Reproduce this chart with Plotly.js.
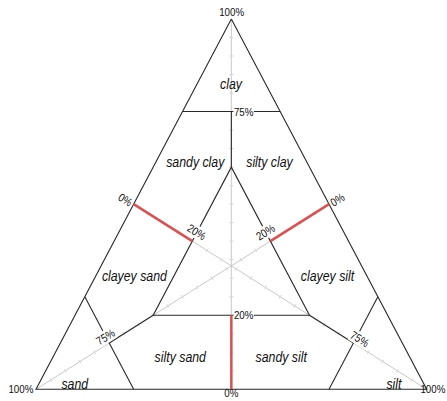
<!DOCTYPE html>
<html>
<head>
<meta charset="utf-8">
<script src="https://cdn.plot.ly/plotly-3.0.1.min.js"></script>
<style>html,body{margin:0;padding:0;background:#fff;}#chart{width:447px;height:401px;}</style>
</head>
<body>
<div id="chart"></div>
<script>
// Compositions (percent): clay, sand, silt. null breaks a line.
const boundaryClay = [100, 0, 0, 100, null, 75, 75, null, 75, 60, null, 60, 20, 20, 60, null, 20, 12.5, null, 20, 12.5, null, 25, 0, null, 25, 0];
const boundarySilt = [0, 0, 100, 0, null, 0, 25, null, 12.5, 20, null, 20, 20, 60, 20, null, 20, 12.5, null, 60, 75, null, 0, 25, null, 75, 75];

const redClay = [50, 40, null, 50, 40, null, 20, 0];
const redSilt = [0, 20, null, 50, 40, null, 40, 50];

const medianClay = [100, 0, null, 0, 50, null, 0, 50];
const medianSilt = [0, 50, null, 0, 50, null, 100, 0];

const tickSteps = [5,10,15,20,25,30,35,40,45,50,55,60,65,70,75,80,85,90,95];

const regionNames = ["clay", "sandy clay", "silty clay", "clayey sand", "clayey silt", "silty sand", "sandy silt", "sand", "silt"];
const percentLabels = ["100%", "100%", "100%", "0%", "75%", "20%", "0%", "20%", "0%", "20%", "75%", "75%"];

// ternary -> cartesian (x = silt + clay/2, y = clay)
function toX(clay, silt) { return (clay === null) ? null : silt + clay / 2; }
function toY(clay) { return clay; }

const bx = boundaryClay.map((c, i) => toX(c, boundarySilt[i]));
const by = boundaryClay.map(toY);
const rx = redClay.map((c, i) => toX(c, redSilt[i]));
const ry = redClay.map(toY);
const mx = medianClay.map((c, i) => toX(c, medianSilt[i]));
const my = medianClay.map(toY);

const tVx = [], tVy = [];
tickSteps.forEach(c => { tVx.push(toX(c, (100 - c) / 2)); tVy.push(c); });
const tSx = [], tSy = [];
tickSteps.forEach(s => { const c = (100 - s) / 2; tSx.push(toX(c, c)); tSy.push(c); });
const tTx = [], tTy = [];
tickSteps.forEach(t => { const c = (100 - t) / 2; tTx.push(toX(c, t)); tTy.push(c); });

const grey = '#c9c9c9';
const tickCol = '#d6d6d6';
const traces = [
  {x: mx, y: my, mode: 'lines', line: {color: grey, width: 1}, hoverinfo: 'skip'},
  {x: tVx, y: tVy, mode: 'markers', marker: {symbol: 'line-ew', size: 3, line: {color: tickCol, width: 1}}, hoverinfo: 'skip'},
  {x: tSx, y: tSy, mode: 'markers', marker: {symbol: 'line-ew', size: 3, angle: 57.7, line: {color: tickCol, width: 1}}, hoverinfo: 'skip'},
  {x: tTx, y: tTy, mode: 'markers', marker: {symbol: 'line-ew', size: 3, angle: -57.7, line: {color: tickCol, width: 1}}, hoverinfo: 'skip'},
  {x: bx, y: by, mode: 'lines', line: {color: '#2a2a2a', width: 1.1}, hoverinfo: 'skip'},
  {x: rx, y: ry, mode: 'lines', line: {color: '#de4f4f', width: 2.5}, hoverinfo: 'skip'}
];

const regionPos = [[50, 82.4], [40.95, 61.5], [59.9, 61.5], [25.3, 30.6], [74.8, 30.6], [37.0, 8.64], [62.9, 8.64], [10.0, 1.35], [91.7, 1.35]];
const FN = '"Liberation Sans", Arial, sans-serif';
const annotations = [];
regionNames.forEach((n, i) => annotations.push({
  x: regionPos[i][0], y: regionPos[i][1], text: n, showarrow: false,
  font: {family: FN, size: 14.5, color: '#111', style: 'italic'}
}));
const pctSpec = [
  {x: 50, y: 101.8, bgcolor: 'rgba(0,0,0,0)'},
  {x: -0.5, y: 0.15, xanchor: 'right', bgcolor: 'rgba(0,0,0,0)'},
  {x: 105.07, y: 0.15, xanchor: 'right', bgcolor: 'rgba(0,0,0,0)'},
  {x: 50, y: -3.02, yanchor: 'bottom', bgcolor: 'rgba(0,0,0,0)'},
  {x: 50.3, y: 75, xanchor: 'left'},
  {x: 50.3, y: 20, xanchor: 'left'},
  {x: 22.96, y: 51.2, textangle: 32},
  {x: 41.03, y: 42.4, textangle: 32},
  {x: 77.05, y: 51.2, textangle: -32},
  {x: 58.82, y: 42.4, textangle: -32},
  {x: 17.79, y: 14.12, textangle: -32},
  {x: 82.8, y: 13.53, textangle: 32}
];
percentLabels.forEach((t, i) => annotations.push(Object.assign({
  text: t, showarrow: false, borderpad: 0, bgcolor: '#fff',
  font: {family: FN, size: 11.5, color: '#111'}
}, pctSpec[i])));

const layout = {
  width: 447, height: 401,
  margin: {l: 0, r: 0, t: 0, b: 0},
  paper_bgcolor: '#fff', plot_bgcolor: '#fff',
  showlegend: false, hovermode: false,
  xaxis: {range: [-9.214, 105.2], visible: false, fixedrange: true},
  yaxis: {range: [-3.16, 105.13], visible: false, fixedrange: true},
  annotations: annotations
};

// condense annotation text horizontally (narrow typeface look)
function condense(gd, s) {
  gd.querySelectorAll('g.annotation').forEach(g => {
    const idx = +g.getAttribute('data-index');
    const ann = annotations[idx] || {};
    const txt = g.querySelector('text.annotation-text');
    const bg = g.querySelector('rect.bg');
    if (!txt) return;
    const bb = bg ? {x: +bg.getAttribute('x') || 0, width: +bg.getAttribute('width')} : txt.getBBox();
    let cx = bb.x + bb.width / 2;
    if (ann.xanchor === 'left') cx = bb.x;
    if (ann.xanchor === 'right') cx = bb.x + bb.width;
    const tr = 'translate(' + cx + ',0) scale(' + s + ',1) translate(' + (-cx) + ',0)';
    txt.setAttribute('transform', tr);
    if (bg) bg.setAttribute('transform', tr);
  });
}
Plotly.newPlot('chart', traces, layout, {displayModeBar: false, staticPlot: true}).then(gd => condense(gd, 0.85));
</script>
</body>
</html>
